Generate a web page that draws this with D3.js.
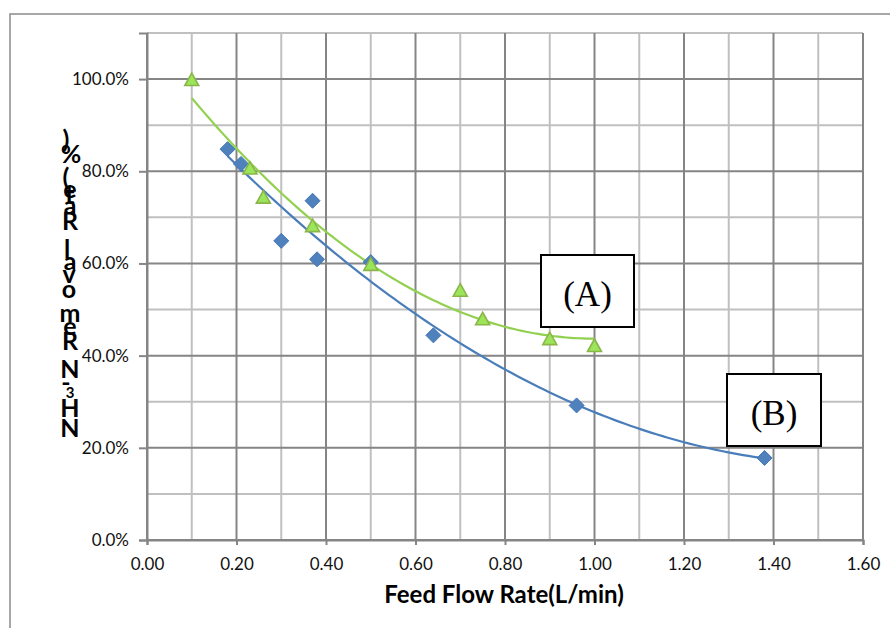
<!DOCTYPE html>
<html>
<head>
<meta charset="utf-8">
<script src="https://cdn.jsdelivr.net/npm/d3@7"></script>
<style>
  html, body { margin: 0; padding: 0; background: #fff; }
  svg { display: block; }
</style>
</head>
<body>
<div id="chart"></div>
<script>
// ---- data ----
const seriesAName = "(A)";
const seriesAx = [0.10, 0.23, 0.26, 0.37, 0.50, 0.70, 0.75, 0.90, 1.00];
const seriesAy = [99.9, 80.7, 74.4, 68.2, 59.8, 54.2, 48.0, 43.7, 42.2];
const seriesBName = "(B)";
const seriesBx = [0.18, 0.21, 0.30, 0.37, 0.38, 0.50, 0.64, 0.96, 1.38];
const seriesBy = [84.8, 81.6, 64.9, 73.6, 60.9, 60.3, 44.4, 29.2, 17.8];
const xTicks = [0.00, 0.20, 0.40, 0.60, 0.80, 1.00, 1.20, 1.40, 1.60];
const yTicks = [0, 20, 40, 60, 80, 100];
const xTitle = "Feed Flow Rate(L/min)";
const yTitle = "NH3-N Removal Rate(%)";

// ---- layout ----
const W = 890, H = 628;
const svg = d3.select("#chart").append("svg").attr("width", W).attr("height", H);

svg.append("rect").attr("x", 10).attr("y", 14).attr("width", 920).attr("height", 700)
  .attr("fill", "#fff").attr("stroke", "#8a8a8a").attr("stroke-width", 1.5);

const x = d3.scaleLinear().domain([0, 1.6]).range([147, 863]);
const y = d3.scaleLinear().domain([0, 110]).range([540, 33]);

const light = "#c0c0c0", dark = "#858585";
const g = svg.append("g");

// gridlines
const vGrid = d3.range(0, 17).map(i => i / 10);
const hGrid = d3.range(0, 12).map(i => i * 10);
const minorV = vGrid.filter((d, i) => i % 2 === 1);
const majorV = vGrid.filter((d, i) => i % 2 === 0);
const minorH = hGrid.filter((d, i) => i % 2 === 1);
const majorH = hGrid.filter((d, i) => i % 2 === 0);

g.selectAll(".mv").data(minorV).join("line")
  .attr("x1", d => x(d)).attr("x2", d => x(d)).attr("y1", y(0)).attr("y2", y(110))
  .attr("stroke", light).attr("stroke-width", 2);
g.selectAll(".mh").data(minorH).join("line")
  .attr("y1", d => y(d)).attr("y2", d => y(d)).attr("x1", x(0)).attr("x2", x(1.6))
  .attr("stroke", light).attr("stroke-width", 2);
g.selectAll(".Mv").data(majorV).join("line")
  .attr("x1", d => x(d)).attr("x2", d => x(d)).attr("y1", y(0)).attr("y2", y(110))
  .attr("stroke", dark).attr("stroke-width", 2);
g.selectAll(".Mh").data(majorH).join("line")
  .attr("y1", d => y(d)).attr("y2", d => y(d)).attr("x1", x(0)).attr("x2", x(1.6))
  .attr("stroke", dark).attr("stroke-width", 2);

// axes
const xAxis = d3.axisBottom(x).tickValues(xTicks).tickFormat(d3.format(".2f"))
  .tickSize(5).tickPadding(13);
const yAxis = d3.axisLeft(y).tickValues(yTicks).tickFormat(d => d.toFixed(1) + "%")
  .tickSize(8).tickPadding(10);

const gx = svg.append("g").attr("transform", `translate(0,${y(0)})`).call(xAxis);
const gy = svg.append("g").attr("transform", `translate(${x(0)},0)`).call(yAxis);
[gx, gy].forEach(a => {
  a.select(".domain").attr("stroke", dark).attr("stroke-width", 2);
  a.selectAll(".tick line").attr("stroke", dark).attr("stroke-width", 2);
  a.selectAll(".tick text").attr("font-family", "Lato, 'Open Sans', sans-serif")
    .attr("font-size", 17).attr("fill", "#111");
});

// quadratic least-squares trendline
function quadFit(xs, ys) {
  let s = [0, 0, 0, 0, 0], t = [0, 0, 0];
  xs.forEach((xv, i) => {
    for (let k = 0; k < 5; k++) s[k] += Math.pow(xv, k);
    for (let k = 0; k < 3; k++) t[k] += ys[i] * Math.pow(xv, k);
  });
  const M = [[s[0], s[1], s[2], t[0]], [s[1], s[2], s[3], t[1]], [s[2], s[3], s[4], t[2]]];
  for (let c = 0; c < 3; c++) {
    for (let r = c + 1; r < 3; r++) {
      const f = M[r][c] / M[c][c];
      for (let k = c; k < 4; k++) M[r][k] -= f * M[c][k];
    }
  }
  const b = [0, 0, 0];
  for (let r = 2; r >= 0; r--) {
    let v = M[r][3];
    for (let k = r + 1; k < 3; k++) v -= M[r][k] * b[k];
    b[r] = v / M[r][r];
  }
  return xv => b[0] + b[1] * xv + b[2] * xv * xv;
}

const line = d3.line().x(d => x(d[0])).y(d => y(d[1]));
function trend(xs, ys, color) {
  const f = quadFit(xs, ys);
  const [lo, hi] = d3.extent(xs);
  const pts = d3.range(0, 101).map(i => { const xv = lo + (hi - lo) * i / 100; return [xv, f(xv)]; });
  svg.append("path").datum(pts).attr("d", line).attr("fill", "none")
    .attr("stroke", color).attr("stroke-width", 2.2);
}

const blue = "#4a7ebb", green = "#92d050";
trend(seriesBx, seriesBy, blue);
trend(seriesAx, seriesAy, green);

// markers
const dataB = seriesBx.map((xv, i) => [xv, seriesBy[i]]);
const dataA = seriesAx.map((xv, i) => [xv, seriesAy[i]]);

svg.selectAll(".dia").data(dataB).join("path")
  .attr("transform", d => `translate(${x(d[0])},${y(d[1])})`)
  .attr("d", "M0,-7.5L7.5,0L0,7.5L-7.5,0Z")
  .attr("fill", "#4f81bd").attr("stroke", "#4277b5").attr("stroke-width", 1);

svg.selectAll(".tri").data(dataA).join("path")
  .attr("transform", d => `translate(${x(d[0])},${y(d[1])})`)
  .attr("d", "M0,-6.5L7,6L-7,6Z")
  .attr("fill", "#9be55a").attr("stroke", "#8bb54a").attr("stroke-width", 1.6)
  .attr("stroke-linejoin", "miter");

// annotation boxes
const boxes = [
  { label: seriesAName, x0: 541, y0: 255, x1: 634, y1: 327 },
  { label: seriesBName, x0: 727, y0: 374, x1: 821, y1: 446 }
];
boxes.forEach(b => {
  svg.append("rect").attr("x", b.x0).attr("y", b.y0).attr("width", b.x1 - b.x0).attr("height", b.y1 - b.y0)
    .attr("fill", "#fff").attr("stroke", "#000").attr("stroke-width", 2);
  svg.append("text").attr("x", (b.x0 + b.x1) / 2).attr("y", (b.y0 + b.y1) / 2 + 15)
    .attr("text-anchor", "middle").attr("font-family", "'Liberation Serif', 'Times New Roman', serif")
    .attr("font-size", 35).attr("fill", "#000").text(b.label);
});

// x title
svg.append("text").attr("x", 504).attr("y", 603).attr("text-anchor", "middle")
  .attr("font-family", "Lato, 'Open Sans', sans-serif").attr("font-weight", "bold")
  .attr("font-size", 24).attr("fill", "#000").text(xTitle);

// y title: stacked characters, bottom-to-top (as in the reference rendering)
const yTitleChars = Array.from(yTitle).filter(c => c !== " ");
const yTitleBase = [437, 417, 398, 391, 378, 350, 335, 322, 298, 283, 270, 258, 230, 214, 204, 198, 186, 163, 148];
const yTitleX =    [70, 70, 70, 66, 70, 70, 70, 70, 69, 69, 70, 67, 70, 70, 70, 70, 66, 71, 66];
const yt = svg.append("g").attr("font-family", "Lato, 'Open Sans', sans-serif")
  .attr("font-weight", "bold").attr("fill", "#000");
yTitleChars.forEach((c, i) => {
  yt.append("text").attr("x", yTitleX[i]).attr("y", yTitleBase[i])
    .attr("text-anchor", "middle").attr("font-size", c === "3" ? 15 : 25).text(c);
});
</script>
</body>
</html>
